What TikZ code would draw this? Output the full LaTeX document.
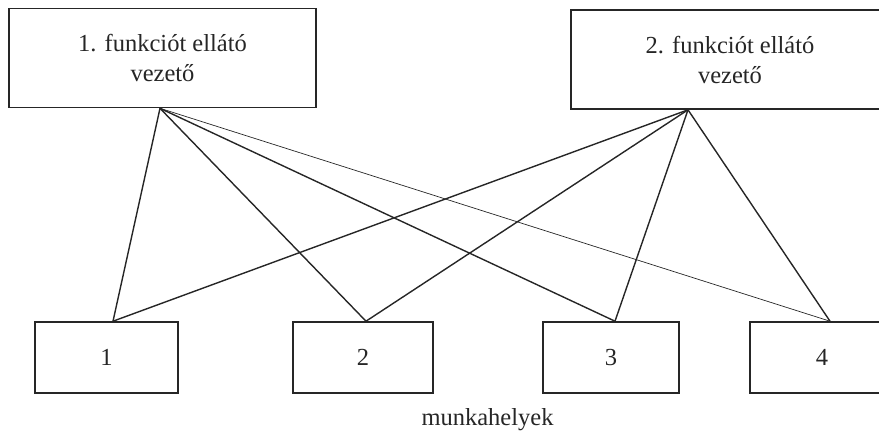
\documentclass[tikz,border=0pt]{standalone}
\usepackage{fontspec}
\setmainfont{Liberation Serif}
\usetikzlibrary{positioning}
\tikzset{
	orgbox/.style={
		draw=black!85,
		line width=1.6pt,
		align=center,
		inner sep=0pt,
		text=black!85,
		font=\fontsize{24.5}{30}\selectfont
	},
	vezetoBox/.style={orgbox, minimum height=99pt},
	helyBox/.style={orgbox, minimum height=71pt},
	orgLink/.style={draw=black!85, line width=1.4pt},
	orgLinkThin/.style={draw=black!85, line width=0.7pt}
}

\begin{document}
\begin{tikzpicture}[x=1pt, y=-1pt]

	\useasboundingbox (0,0) rectangle (879,432);

	% Managers
	\node[vezetoBox, minimum width=307pt] (vezeto1) at (162.5,58)
	{1. funkciót ellátó\\vezető};
	\node[vezetoBox, minimum width=318pt] (vezeto2) at (730,59.5)
	{2. funkciót ellátó\\vezető};

	% Workplaces
	\node[helyBox, minimum width=143pt] (hely1) at (106.5,357.5) {1};
	\node[helyBox, minimum width=140pt] (hely2) at (363,357.5) {2};
	\node[helyBox, minimum width=136pt] (hely3) at (611,357.5) {3};
	\node[helyBox, minimum width=144pt] (hely4) at (822,357.5) {4};

	\node[text=black!85, font=\fontsize{24.5}{30}\selectfont, anchor=base] (felirat) at (487.5,425) {munkahelyek};

	% Links from the first manager
	\draw[orgLink] ([xshift=-2.5pt]vezeto1.south) -- ([xshift=6.5pt]hely1.north);
	\draw[orgLink] ([xshift=-2.5pt]vezeto1.south) -- ([xshift=3pt]hely2.north);
	\draw[orgLink] ([xshift=-2.5pt]vezeto1.south) -- ([xshift=4pt]hely3.north);
	\draw[orgLinkThin] ([xshift=-2.5pt]vezeto1.south) -- ([xshift=8pt]hely4.north);

	% Links from the second manager
	\draw[orgLink] ([xshift=-42pt]vezeto2.south) -- ([xshift=6.5pt]hely1.north);
	\draw[orgLink] ([xshift=-42pt]vezeto2.south) -- ([xshift=3pt]hely2.north);
	\draw[orgLink] ([xshift=-42pt]vezeto2.south) -- ([xshift=4pt]hely3.north);
	\draw[orgLink] ([xshift=-42pt]vezeto2.south) -- ([xshift=8pt]hely4.north);

\end{tikzpicture}
\end{document}
